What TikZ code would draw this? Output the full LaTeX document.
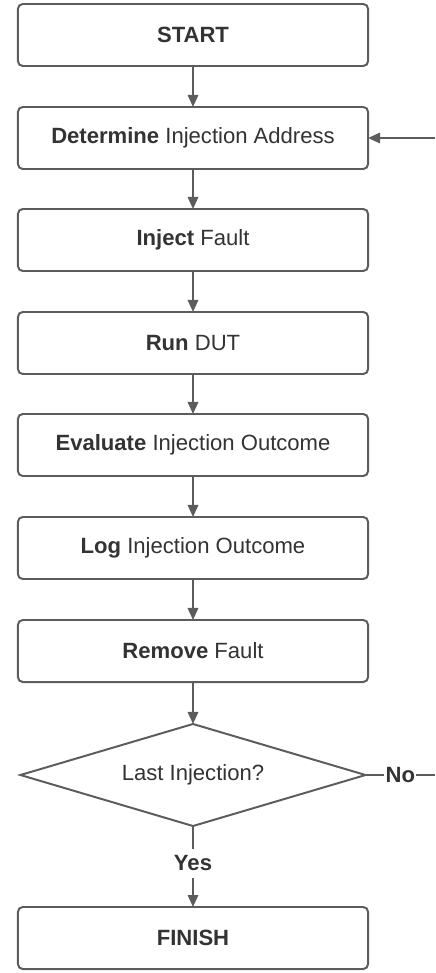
\documentclass[tikz,border=0pt]{standalone}
\usepackage{fontspec}
\setmainfont{Liberation Sans}
\usepackage{tikz}
\usetikzlibrary{arrows.meta,shapes.geometric}
\definecolor{linegray}{HTML}{5C5C5C}
\definecolor{textgray}{HTML}{333333}

\begin{document}
\begin{tikzpicture}[x=0.025cm, y=-0.025cm,
  font=\fontsize{15.7}{18}\selectfont, text=textgray,
  box/.style={draw=linegray, line width=1.4pt, rounded corners=0.12cm,
    minimum width=8.75cm, minimum height=1.55cm, outer sep=0pt, fill=white},
  decision/.style={diamond, draw=linegray, line width=1.4pt, aspect=3.4,
    minimum width=8.625cm, minimum height=2.55cm, inner sep=0pt, outer sep=0pt},
  flow/.style={draw=linegray, line width=1.4pt, -{Triangle[length=0.3cm,width=0.26cm]}},
  plain/.style={draw=linegray, line width=1.4pt},
  tag/.style={fill=white, font=\fontsize{15.7}{18}\selectfont\bfseries, inner sep=1pt}]
\useasboundingbox (0,0) rectangle (435,973);
\node[box] (start) at (193,35) {\textbf{START}};
\node[box] (determine) at (193,138) {\textbf{Determine} Injection Address};
\node[box] (inject) at (193,240) {\textbf{Inject} Fault};
\node[box] (run) at (193,343) {\textbf{Run} DUT};
\node[box] (evaluate) at (193,445) {\textbf{Evaluate} Injection Outcome};
\node[box] (log) at (193,548) {\textbf{Log} Injection Outcome};
\node[box] (remove) at (193,651) {\textbf{Remove} Fault};
\node[decision] (last) at (193,775) {Last Injection?};
\node[box] (finish) at (193,938) {\textbf{FINISH}};
\coordinate (noend) at (435,775);
\coordinate (loopin) at (435,138);

\foreach \a/\b in {start/determine, determine/inject, inject/run, run/evaluate,
  evaluate/log, log/remove, remove/last}
  \draw[flow] (\a) -- (\b);
\draw[flow] (last) -- node[tag, inner sep=5pt, pos=0.46] {Yes} (finish);
\draw[plain] (last.east) -- node[tag] {No} (noend);
\draw[flow] (loopin) -- (determine.east);
\end{tikzpicture}
\end{document}
